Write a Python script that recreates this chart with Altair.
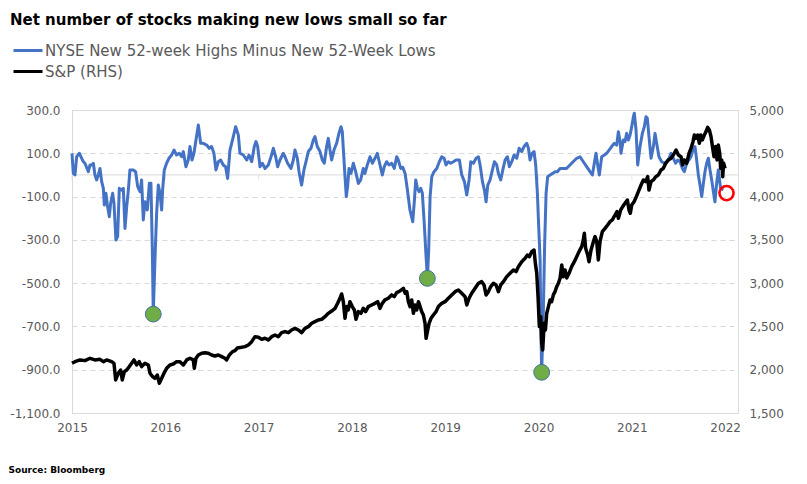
import altair as alt
import pandas as pd

TITLE = "Net number of stocks making new lows small so far"
S1 = "NYSE New 52-week Highs Minus New 52-Week Lows"
S2 = "S&P (RHS)"
SOURCE = "Source: Bloomberg"

# NYSE new highs minus new lows (left axis), x in decimal years
blue_t = [2015.000, 2015.014, 2015.032, 2015.050, 2015.079, 2015.104, 2015.121, 2015.139, 2015.175, 2015.193,
          2015.211, 2015.229, 2015.246, 2015.264, 2015.282, 2015.300, 2015.318, 2015.336, 2015.346, 2015.364,
          2015.379, 2015.400, 2015.414, 2015.436, 2015.450, 2015.471, 2015.489, 2015.507, 2015.532, 2015.550,
          2015.568, 2015.586, 2015.604, 2015.621, 2015.657, 2015.682, 2015.704, 2015.729, 2015.746, 2015.764,
          2015.782, 2015.807, 2015.829, 2015.846, 2015.861, 2015.871, 2015.889, 2015.907, 2015.925, 2015.943,
          2015.961, 2015.971, 2015.989, 2016.014, 2016.039, 2016.068, 2016.093, 2016.121, 2016.150, 2016.175,
          2016.193, 2016.221, 2016.246, 2016.264, 2016.286, 2016.307, 2016.329, 2016.354, 2016.379, 2016.407,
          2016.443, 2016.471, 2016.496, 2016.521, 2016.543, 2016.568, 2016.593, 2016.621, 2016.646, 2016.668,
          2016.693, 2016.729, 2016.754, 2016.783, 2016.800, 2016.836, 2016.872, 2016.897, 2016.926, 2016.954,
          2016.972, 2016.990, 2017.015, 2017.040, 2017.069, 2017.104, 2017.133, 2017.158, 2017.183, 2017.204,
          2017.229, 2017.265, 2017.283, 2017.311, 2017.347, 2017.372, 2017.390, 2017.415, 2017.433, 2017.461,
          2017.486, 2017.508, 2017.533, 2017.561, 2017.586, 2017.604, 2017.629, 2017.658, 2017.683, 2017.704,
          2017.729, 2017.747, 2017.765, 2017.783, 2017.808, 2017.836, 2017.861, 2017.883, 2017.897, 2017.911,
          2017.926, 2017.940, 2017.954, 2017.969, 2017.990, 2018.015, 2018.040, 2018.069, 2018.094, 2018.122,
          2018.140, 2018.165, 2018.194, 2018.219, 2018.247, 2018.272, 2018.301, 2018.326, 2018.347, 2018.372,
          2018.397, 2018.426, 2018.454, 2018.480, 2018.497, 2018.523, 2018.545, 2018.570, 2018.595, 2018.622,
          2018.652, 2018.670, 2018.684, 2018.702, 2018.720, 2018.738, 2018.755, 2018.773, 2018.795, 2018.809,
          2018.823, 2018.838, 2018.856, 2018.880, 2018.909, 2018.937, 2018.963, 2018.988, 2019.009, 2019.034,
          2019.059, 2019.088, 2019.116, 2019.152, 2019.177, 2019.206, 2019.231, 2019.256, 2019.274, 2019.302,
          2019.331, 2019.356, 2019.374, 2019.399, 2019.420, 2019.438, 2019.456, 2019.481, 2019.506, 2019.527,
          2019.552, 2019.570, 2019.595, 2019.617, 2019.642, 2019.667, 2019.688, 2019.713, 2019.738, 2019.767,
          2019.792, 2019.820, 2019.845, 2019.874, 2019.892, 2019.909, 2019.931, 2019.952, 2019.970, 2019.988,
          2020.002, 2020.017, 2020.025, 2020.034, 2020.052, 2020.066, 2020.081, 2020.098, 2020.124, 2020.152,
          2020.177, 2020.202, 2020.231, 2020.266, 2020.300, 2020.355, 2020.409, 2020.445, 2020.480, 2020.516,
          2020.552, 2020.577, 2020.598, 2020.616, 2020.634, 2020.652, 2020.677, 2020.706, 2020.730, 2020.756,
          2020.784, 2020.813, 2020.838, 2020.856, 2020.874, 2020.884, 2020.909, 2020.927, 2020.945, 2020.963,
          2020.981, 2020.999, 2021.017, 2021.027, 2021.045, 2021.063, 2021.088, 2021.113, 2021.134, 2021.152,
          2021.166, 2021.184, 2021.206, 2021.231, 2021.249, 2021.266, 2021.291, 2021.320, 2021.349, 2021.374,
          2021.399, 2021.420, 2021.445, 2021.470, 2021.492, 2021.517, 2021.542, 2021.563, 2021.588, 2021.613,
          2021.634, 2021.660, 2021.677, 2021.695, 2021.713, 2021.731, 2021.749, 2021.767, 2021.784, 2021.802,
          2021.820, 2021.838, 2021.856, 2021.874, 2021.891, 2021.909, 2021.927, 2021.938, 2021.952, 2021.980]
blue_v = [100, 7, 0, 84, 100, 77, 61, 54, 15, 46,
          46, 54, 0, -23, 0, 30, -31, -62, -139, -85,
          -139, -193, -131, -85, -131, -301, -285, -62, -70, -62,
          -247, -147, -70, 23, 23, 15, -54, -77, -23, -208,
          -124, -162, -39, -39, -347, -643, -393, -177, -47, -85,
          -162, -70, 23, 54, 77, 92, 115, 92, 100, 84,
          108, 38, 69, 131, 69, 100, 161, 231, 146, 146,
          138, 123, 131, 100, 23, 61, 69, 46, 38, -16,
          115, 177, 223, 184, 100, 92, 69, 92, 61, 131,
          154, 131, 38, 54, 30, 46, 84, 123, 84, 38,
          69, 100, 84, 54, 30, 69, 115, 77, 15, -47,
          23, 61, 108, 123, 161, 177, 131, 108, 69, 54,
          131, 169, 115, 69, 115, 146, 192, 223, 200, 100,
          -8, -100, -54, 30, 7, 54, 15, -39, -23, 30,
          7, 46, 84, 54, 77, 100, 46, 0, 38, 61,
          46, 54, 30, 84, 69, 30, 35, 7, -70, -162,
          -216, -116, -23, -62, -77, -62, -85, -208, -378, -478,
          -347, -100, -8, 15, 30, 61, 84, 77, 46, 61,
          54, 61, 69, 69, 0, -31, -93, -23, 61, 54,
          77, 84, 46, -31, -70, -124, -47, -23, 23, 61,
          46, 7, -23, 23, 69, 84, 38, 61, 92, 77,
          123, 108, 131, 146, 123, 69, 100, 108, 46, -85,
          -239, -393, -700, -912, -624, -316, -85, -8, 0, 7,
          15, 15, 30, 30, 30, 54, 77, 84, 61, 38,
          15, 0, 54, 100, 46, 0, 84, 92, 100, 115,
          131, 146, 138, 200, 154, 100, 161, 154, 192, 161,
          184, 223, 269, 285, 208, 46, 131, 192, 223, 269,
          262, 177, 77, 131, 192, 146, 84, 61, 54, 61,
          77, 100, 77, 54, 69, 61, 30, 15, 54, 69,
          84, 123, 131, 69, 0, -47, -100, -39, 15, 54,
          77, 23, -23, -77, -124, -39, 23, -16, -62, -70]

# S&P 500 (right axis)
spx_t = [2015.000, 2015.032, 2015.086, 2015.139, 2015.193, 2015.246, 2015.300, 2015.336, 2015.371, 2015.425,
         2015.450, 2015.468, 2015.496, 2015.521, 2015.539, 2015.561, 2015.586, 2015.614, 2015.639, 2015.664,
         2015.693, 2015.721, 2015.746, 2015.782, 2015.818, 2015.836, 2015.864, 2015.889, 2015.914, 2015.936,
         2015.961, 2015.986, 2016.014, 2016.050, 2016.086, 2016.121, 2016.157, 2016.193, 2016.229, 2016.264,
         2016.300, 2016.311, 2016.329, 2016.354, 2016.390, 2016.425, 2016.461, 2016.496, 2016.532, 2016.568,
         2016.604, 2016.639, 2016.657, 2016.686, 2016.721, 2016.747, 2016.771, 2016.818, 2016.854, 2016.890,
         2016.926, 2016.961, 2016.997, 2017.033, 2017.068, 2017.104, 2017.140, 2017.176, 2017.211, 2017.247,
         2017.283, 2017.319, 2017.354, 2017.390, 2017.426, 2017.461, 2017.497, 2017.533, 2017.569, 2017.604,
         2017.640, 2017.676, 2017.711, 2017.747, 2017.783, 2017.819, 2017.847, 2017.872, 2017.890, 2017.908,
         2017.926, 2017.944, 2017.961, 2017.979, 2018.004, 2018.026, 2018.044, 2018.069, 2018.097, 2018.122,
         2018.147, 2018.176, 2018.211, 2018.247, 2018.276, 2018.301, 2018.326, 2018.354, 2018.390, 2018.426,
         2018.454, 2018.480, 2018.516, 2018.552, 2018.570, 2018.588, 2018.605, 2018.623, 2018.641, 2018.659,
         2018.677, 2018.695, 2018.713, 2018.731, 2018.748, 2018.766, 2018.784, 2018.795, 2018.809, 2018.827,
         2018.848, 2018.873, 2018.902, 2018.927, 2018.963, 2018.998, 2019.034, 2019.070, 2019.106, 2019.141,
         2019.177, 2019.213, 2019.231, 2019.256, 2019.284, 2019.320, 2019.356, 2019.391, 2019.416, 2019.438,
         2019.463, 2019.488, 2019.516, 2019.545, 2019.570, 2019.595, 2019.624, 2019.659, 2019.695, 2019.731,
         2019.759, 2019.784, 2019.820, 2019.856, 2019.881, 2019.902, 2019.927, 2019.952, 2019.966, 2019.981,
         2019.995, 2020.009, 2020.024, 2020.034, 2020.045, 2020.060, 2020.074, 2020.088, 2020.106, 2020.124,
         2020.141, 2020.159, 2020.177, 2020.195, 2020.213, 2020.231, 2020.249, 2020.266, 2020.284, 2020.302,
         2020.327, 2020.355, 2020.384, 2020.409, 2020.434, 2020.463, 2020.480, 2020.491, 2020.505, 2020.527,
         2020.541, 2020.563, 2020.588, 2020.606, 2020.624, 2020.641, 2020.659, 2020.684, 2020.713, 2020.741,
         2020.766, 2020.791, 2020.820, 2020.841, 2020.856, 2020.881, 2020.902, 2020.927, 2020.952, 2020.970,
         2020.984, 2020.999, 2021.024, 2021.041, 2021.070, 2021.099, 2021.124, 2021.149, 2021.170, 2021.184,
         2021.206, 2021.231, 2021.256, 2021.284, 2021.313, 2021.338, 2021.363, 2021.392, 2021.420, 2021.445,
         2021.474, 2021.499, 2021.527, 2021.545, 2021.563, 2021.588, 2021.613, 2021.634, 2021.656, 2021.670,
         2021.688, 2021.706, 2021.724, 2021.738, 2021.756, 2021.777, 2021.795, 2021.813, 2021.831, 2021.849,
         2021.867, 2021.881, 2021.899, 2021.913, 2021.927, 2021.942, 2021.952, 2021.963, 2021.974, 2021.984,
         2021.999]
spx_v = [2074, 2093, 2113, 2105, 2132, 2113, 2120, 2093, 2113, 2093,
         2074, 1882, 1959, 1997, 1882, 1978, 1997, 2036, 2074, 2113,
         2055, 2093, 2036, 2074, 2055, 1959, 1920, 1901, 1939, 1843,
         1901, 1959, 2016, 2055, 2066, 2093, 2093, 2055, 2113, 2132,
         2113, 2016, 2132, 2170, 2190, 2197, 2190, 2170, 2159, 2170,
         2151, 2132, 2113, 2170, 2209, 2220, 2250, 2259, 2267, 2286,
         2324, 2382, 2374, 2351, 2363, 2344, 2382, 2401, 2382, 2428,
         2440, 2428, 2459, 2478, 2459, 2428, 2478, 2497, 2536, 2555,
         2574, 2582, 2613, 2651, 2678, 2709, 2767, 2825, 2875, 2786,
         2594, 2729, 2690, 2786, 2729, 2690, 2582, 2671, 2651, 2709,
         2671, 2729, 2748, 2767, 2786, 2709, 2767, 2806, 2825, 2864,
         2844, 2890, 2910, 2940, 2883, 2902, 2786, 2729, 2806, 2651,
         2748, 2690, 2786, 2729, 2671, 2632, 2536, 2363, 2440, 2536,
         2594, 2632, 2671, 2729, 2767, 2786, 2825, 2864, 2902, 2921,
         2883, 2844, 2748, 2825, 2883, 2940, 2998, 3017, 2979, 2864,
         2902, 2960, 2998, 2979, 2902, 2979, 3017, 3075, 3114, 3152,
         3133, 3190, 3248, 3287, 3325, 3306, 3364, 3383, 3229, 3114,
         2844, 2498, 2613, 2305, 2228, 2536, 2459, 2651, 2729, 2806,
         2786, 2864, 2902, 2960, 2998, 3056, 3210, 3075, 3152, 3060,
         3114, 3190, 3248, 3306, 3364, 3421, 3498, 3576, 3402, 3325,
         3248, 3383, 3479, 3537, 3479, 3268, 3479, 3595, 3633, 3672,
         3710, 3730, 3787, 3826, 3749, 3845, 3884, 3922, 3960, 3845,
         3807, 3903, 3941, 3980, 4057, 4134, 4192, 4172, 4230, 4076,
         4172, 4192, 4230, 4249, 4307, 4326, 4384, 4423, 4442, 4480,
         4538, 4480, 4461, 4365, 4423, 4384, 4500, 4557, 4634, 4711,
         4673, 4711, 4615, 4711, 4654, 4711, 4750, 4800, 4769, 4692,
         4557, 4461, 4577, 4423, 4596, 4500, 4326, 4423, 4230, 4384,
         4326]

# highlighted lows (green) and latest reading (red circle)
low_t = [2015.871, 2018.809, 2020.034]
low_v = [-643, -478, -912]
latest_t = [2022.015]
latest_v = [-84]

year_ticks = [2015, 2016, 2017, 2018, 2019, 2020, 2021, 2022]
left_ticks = [300, 100, -100, -300, -500, -700, -900, -1100]
right_ticks = [5000, 4500, 4000, 3500, 3000, 2500, 2000, 1500]

blue_df = pd.DataFrame({"t": blue_t, "v": blue_v, "series": S1})
spx_df = pd.DataFrame({"t": spx_t, "v": spx_v, "series": S2})
low_df = pd.DataFrame({"t": low_t, "v": low_v})
latest_df = pd.DataFrame({"t": latest_t, "v": latest_v})
zero_df = pd.DataFrame({"v": [0]})
tick_df = pd.DataFrame({"t": year_ticks, "v": [0] * len(year_ticks)})

W, H = 666, 303
FONT = "DejaVu Sans"
GRAY = "#595959"
GRID = "#D9D9D9"

xscale = alt.Scale(domain=[2015, 2022.138], nice=False, zero=False)
lscale = alt.Scale(domain=[-1100, 300], nice=False, zero=False)
rscale = alt.Scale(domain=[1500, 5000], nice=False, zero=False)

xaxis = alt.Axis(values=year_ticks, format="d", grid=False, domain=False, ticks=False,
                 labelFlush=False, labelOverlap=False,
                 labelPadding=9, labelFont=FONT, labelFontSize=12, labelColor=GRAY,
                 title=SOURCE, titleAnchor="start", titleAlign="left", titleX=-64, titleY=59,
                 titleBaseline="alphabetic", titleFont=FONT, titleFontSize=9,
                 titleFontWeight="bold", titleColor="#000000")
x_enc = alt.X("t:Q", scale=xscale, axis=xaxis)

color_enc = alt.Color("series:N",
                      scale=alt.Scale(domain=[S1, S2], range=["#4472C4", "#000000"]),
                      legend=alt.Legend(title=None, orient="none", legendX=-60, legendY=-67,
                                        direction="vertical", symbolType="stroke",
                                        symbolSize=841, symbolStrokeWidth=3,
                                        clipHeight=15, labelLimit=0,
                                        labelFont=FONT, labelFontSize=15, labelColor=GRAY,
                                        labelOffset=1, rowPadding=5))

zero_rule = alt.Chart(zero_df).mark_rule(color=GRID, strokeWidth=1).encode(
    y=alt.Y("v:Q", scale=lscale, axis=None))

zero_ticks = alt.Chart(tick_df).mark_tick(orient="vertical", color=GRID, thickness=1,
                                          size=5, yOffset=2.5).encode(
    x=x_enc, y=alt.Y("v:Q", scale=lscale, axis=None))

blue = alt.Chart(blue_df).mark_line(strokeWidth=3, strokeJoin="round").encode(
    x=x_enc,
    y=alt.Y("v:Q", scale=lscale,
            axis=alt.Axis(orient="left", values=left_ticks, title=None,
                          labelExpr="replace(format(datum.value, ',.1f'), '\u2212', '-')",
                          grid=True, gridColor=GRID, gridDash=[5, 4], gridWidth=1,
                          domain=True, domainColor=GRID, ticks=False, tickSize=0,
                          labelFlush=False, labelOverlap=False,
                          labelPadding=12, labelFont=FONT, labelFontSize=12,
                          labelColor=GRAY)),
    color=color_enc)

black = alt.Chart(spx_df).mark_line(strokeWidth=3.5, strokeJoin="round").encode(
    x=x_enc,
    y=alt.Y("v:Q", scale=rscale,
            axis=alt.Axis(orient="right", values=right_ticks, format=",d", title=None,
                          grid=False, domain=False, ticks=False, tickSize=0,
                          labelFlush=False, labelOverlap=False,
                          labelPadding=11, labelFont=FONT, labelFontSize=12,
                          labelColor=GRAY)),
    color=color_enc)

lows = alt.Chart(low_df).mark_point(filled=True, shape="circle", size=250, opacity=1,
                                     fill="#70AD47", stroke="#41719C", strokeWidth=1).encode(
    x=x_enc, y=alt.Y("v:Q", scale=lscale, axis=None))

latest = alt.Chart(latest_df).mark_point(filled=False, shape="circle", size=200, opacity=1,
                                          stroke="#FF0000", strokeWidth=2.6).encode(
    x=x_enc, y=alt.Y("v:Q", scale=lscale, axis=None))

chart = alt.layer(zero_rule, zero_ticks, blue, black, lows, latest).resolve_scale(
    y="independent"
).properties(
    width=W, height=H,
    title=alt.TitleParams(TITLE, anchor="start", frame="group", font=FONT, fontSize=15,
                          fontWeight="bold", color="#000000", dx=-62, offset=3,
                          baseline="alphabetic"),
    autosize=alt.AutoSizeParams(type="none"),
    padding={"left": 64, "top": 102, "right": 50, "bottom": 62},
).configure_view(stroke=None).configure(background="white")

chart.save("out.html", embed_options={"renderer": "svg", "actions": False})
